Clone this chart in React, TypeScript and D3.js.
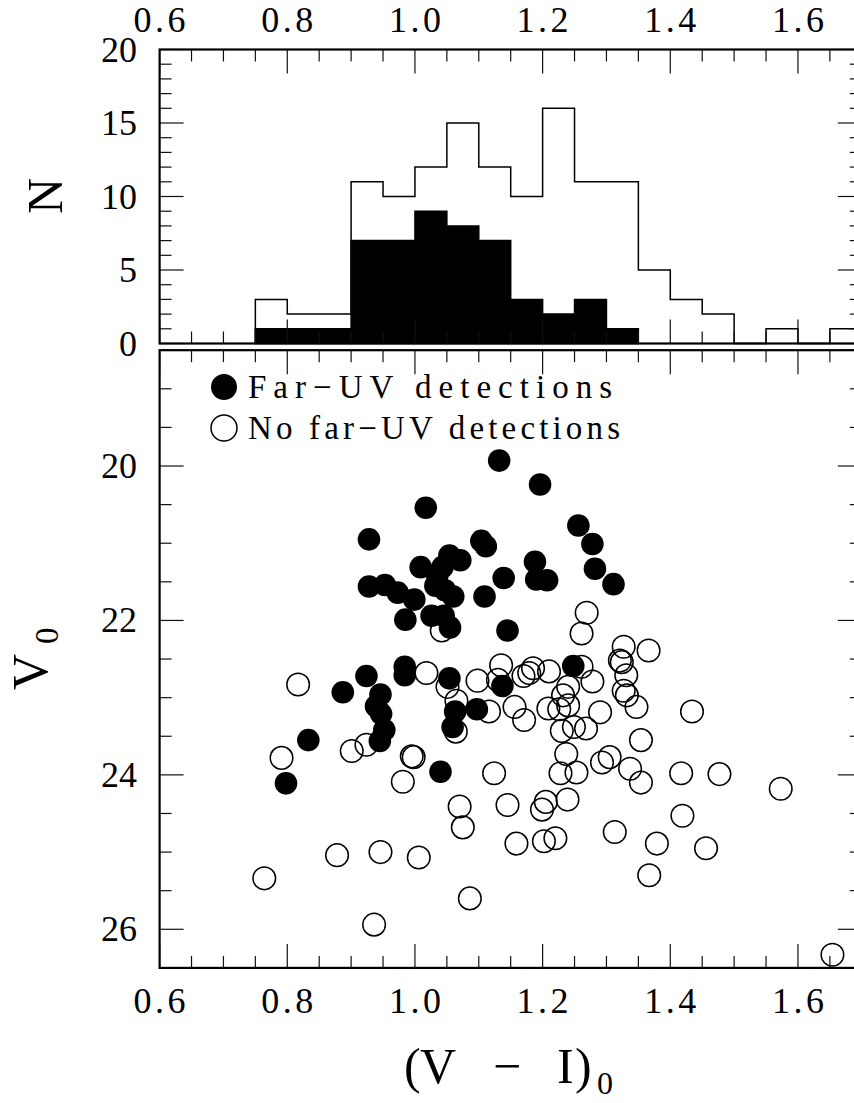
import React from "react";
import * as d3 from "d3";

const W = 854;
const H = 1103;

// histogram of (V-I)0, bins 0.05 wide
const binStarts = [0.75, 0.8, 0.85, 0.9, 0.95, 1.0, 1.05, 1.1, 1.15, 1.2, 1.25, 1.3, 1.35, 1.4, 1.45, 1.5, 1.55, 1.6, 1.65];
const allCounts = [3, 2, 2, 11, 10, 12, 15, 12, 10, 16, 11, 11, 5, 3, 2, 0, 1, 0, 1];
const fuvCounts = [1, 1, 1, 7, 7, 9, 8, 7, 3, 2, 3, 1];
const binWidth = 0.05;

// far-UV detected clusters
const fuvVI = [1.132, 1.196, 1.017, 0.928, 1.104, 1.256, 1.278, 1.282, 1.311, 1.054, 1.071, 1.009, 1.043, 0.928, 0.953, 0.973, 0.999, 1.032, 1.06, 1.109, 1.188, 1.19, 1.207, 1.139, 0.985, 1.026, 1.045, 1.055, 1.145, 0.924, 0.984, 0.984, 1.054, 1.248, 1.137, 0.887, 0.946, 0.939, 0.947, 0.952, 0.945, 1.063, 1.097, 1.059, 0.833, 0.798, 1.04, 1.035, 1.047, 1.111];
const fuvV = [19.93, 20.24, 20.54, 20.95, 20.97, 20.77, 21.01, 21.33, 21.53, 21.16, 21.22, 21.31, 21.31, 21.56, 21.54, 21.64, 21.73, 21.55, 21.69, 21.69, 21.24, 21.47, 21.48, 21.45, 21.99, 21.94, 21.94, 22.09, 22.13, 22.72, 22.6, 22.71, 22.75, 22.59, 22.85, 22.93, 22.96, 23.11, 23.21, 23.42, 23.56, 23.18, 23.15, 23.38, 23.55, 24.11, 23.96, 21.42, 21.61, 21.04];

// no far-UV detection
const noVI = [0.817, 1.018, 1.051, 1.098, 1.135, 1.065, 1.116, 1.064, 0.924, 0.901, 0.791, 0.995, 0.998, 0.981, 1.124, 1.07, 1.075, 1.145, 0.878, 0.946, 1.006, 0.764, 1.086, 0.936, 1.327, 1.366, 1.321, 1.324, 1.261, 1.185, 1.21, 1.17, 1.179, 1.278, 1.331, 1.24, 1.232, 1.327, 1.332, 1.347, 1.156, 1.171, 1.209, 1.226, 1.24, 1.29, 1.23, 1.249, 1.268, 1.434, 1.354, 1.237, 1.305, 1.293, 1.337, 1.354, 1.228, 1.253, 1.417, 1.477, 1.573, 1.205, 1.199, 1.239, 1.419, 1.313, 1.159, 1.202, 1.22, 1.379, 1.456, 1.367, 1.654, 1.269, 1.261, 1.042, 1.13];
const noV = [22.83, 22.68, 22.86, 22.78, 22.58, 23.04, 23.18, 23.44, 23.61, 23.69, 23.78, 23.76, 23.77, 24.09, 23.98, 24.41, 24.68, 24.39, 25.04, 25.0, 25.07, 25.34, 25.6, 25.94, 22.34, 22.39, 22.52, 22.54, 22.6, 22.62, 22.66, 22.72, 22.68, 22.79, 22.71, 22.86, 22.97, 22.91, 22.97, 23.12, 23.12, 23.29, 23.14, 23.15, 23.1, 23.19, 23.43, 23.38, 23.4, 23.18, 23.55, 23.73, 23.77, 23.84, 23.92, 24.1, 23.98, 23.97, 23.98, 23.99, 24.18, 24.35, 24.45, 24.32, 24.53, 24.74, 24.89, 24.86, 24.82, 24.89, 24.95, 25.3, 26.33, 21.9, 22.17, 22.13, 22.77];

const xTickLabels = ["0.6", "0.8", "1.0", "1.2", "1.4", "1.6"];
const nTickLabels = [0, 5, 10, 15, 20];
const magTickLabels = [20, 22, 24, 26];

const left = 159.6;
const right = 861.8;
const histTop = 49.5;
const histBottom = 343.5;
const scatTop = 350.2;
const scatBottom = 967.9;

const x = d3.scaleLinear().domain([0.6, 1.7]).range([left, right]);
const yN = d3.scaleLinear().domain([0, 20]).range([histBottom, histTop]);
const yV = d3.scaleLinear().domain([18.5, 26.5]).range([scatTop, scatBottom]);

const font = "'Liberation Serif', 'Times New Roman', serif";
const tickColor = "#111";

function stepPath(counts: number[]) {
  const pts: [number, number][] = [[binStarts[0], 0]];
  counts.forEach((c, i) => {
    pts.push([binStarts[i], c]);
    pts.push([binStarts[i] + binWidth, c]);
  });
  pts.push([binStarts[counts.length - 1] + binWidth, 0]);
  const line = d3.line<[number, number]>().x(d => x(d[0])).y(d => yN(d[1]));
  return line(pts) as string;
}

const isMult = (v: number, s: number) => Math.abs(v / s - Math.round(v / s)) < 1e-6;

function XTicks({ top, bottom }: { top: number; bottom: number }) {
  const vals = d3.range(0, 23).map(i => 0.6 + i * 0.05);
  return (
    <g stroke={tickColor} strokeWidth={1.2}>
      {vals.map((v, i) => {
        const len = isMult(v, 0.2) ? 24 : 12;
        const px = x(v);
        return (
          <g key={i}>
            <line x1={px} x2={px} y1={top} y2={top + len} />
            <line x1={px} x2={px} y1={bottom} y2={bottom - len} />
          </g>
        );
      })}
    </g>
  );
}

function YTicks({ vals, scale, major }: { vals: number[]; scale: d3.ScaleLinear<number, number>; major: (v: number) => boolean }) {
  return (
    <g stroke={tickColor} strokeWidth={1.2}>
      {vals.map((v, i) => {
        const len = major(v) ? 24 : 12;
        const py = scale(v);
        return (
          <g key={i}>
            <line x1={left} x2={left + len} y1={py} y2={py} />
            <line x1={right} x2={right - len} y1={py} y2={py} />
          </g>
        );
      })}
    </g>
  );
}

export default function App() {
  const nVals = d3.range(0, 21);
  const vVals = d3.range(0, 17).map(i => 18.5 + i * 0.5);

  return (
    <svg
      width={W}
      height={H}
      viewBox={`0 0 ${W} ${H}`}
      style={{ position: "absolute", left: 0, top: 0, background: "#fff" }}
      fontFamily={font}
    >
      <rect x={0} y={0} width={W} height={H} fill="#fff" />

      {/* histogram panel */}
      <path d={stepPath(allCounts)} fill="none" stroke="#000" strokeWidth={1.5} />
      <path d={stepPath(fuvCounts) + "Z"} fill="#000" stroke="#000" strokeWidth={1.5} />
      <XTicks top={histTop} bottom={histBottom} />
      <YTicks vals={nVals} scale={yN} major={v => v % 5 === 0} />
      <rect x={left} y={histTop} width={right - left} height={histBottom - histTop} fill="none" stroke="#000" strokeWidth={2.2} />

      {xTickLabels.map(t => (
        <text key={"top" + t} x={x(+t)} y={32} fontSize={36} textAnchor="middle" textLength={52} lengthAdjust="spacing">
          {t}
        </text>
      ))}
      {nTickLabels.map(t => (
        <text key={"n" + t} x={137} y={yN(t) + 12} fontSize={36} textAnchor="end">
          {t}
        </text>
      ))}
      <text transform={`translate(62,214) rotate(-90)`} fontSize={50}>N</text>

      {/* scatter panel */}
      <g fill="none" stroke="#000" strokeWidth={1.5}>
        {noVI.map((v, i) => (
          <circle key={"o" + i} cx={x(v)} cy={yV(noV[i])} r={11.3} />
        ))}
      </g>
      <g fill="#000">
        {fuvVI.map((v, i) => (
          <circle key={"f" + i} cx={x(v)} cy={yV(fuvV[i])} r={11.3} />
        ))}
      </g>
      <XTicks top={scatTop} bottom={scatBottom} />
      <YTicks vals={vVals} scale={yV} major={v => v % 2 === 0} />
      <rect x={left} y={scatTop} width={right - left} height={scatBottom - scatTop} fill="none" stroke="#000" strokeWidth={2.2} />

      {magTickLabels.map(t => (
        <text key={"m" + t} x={137} y={yV(t) + 12} fontSize={36} textAnchor="end">
          {t}
        </text>
      ))}
      {xTickLabels.map(t => (
        <text key={"bot" + t} x={x(+t)} y={1013} fontSize={36} textAnchor="middle" textLength={52} lengthAdjust="spacing">
          {t}
        </text>
      ))}

      {/* legend */}
      <circle cx={224} cy={387} r={13} fill="#000" />
      <text x={248} y={398} fontSize={33} textLength={364} lengthAdjust="spacing">Far−UV detections</text>
      <circle cx={224} cy={428} r={13} fill="none" stroke="#000" strokeWidth={1.5} />
      <text x={248} y={439} fontSize={33} textLength={372} lengthAdjust="spacing">No far−UV detections</text>

      {/* axis titles */}
      <text y={1083} fontSize={50}>
        <tspan x={404}>(</tspan>
        <tspan x={420}>V</tspan>
        <tspan x={493}>−</tspan>
        <tspan x={557}>I</tspan>
        <tspan x={575}>)</tspan>
      </text>
      <text x={597} y={1094} fontSize={32}>0</text>
      <text transform={`translate(47,690) rotate(-90)`} fontSize={50}>
        V<tspan dx={10} dy={11} fontSize={33}>0</tspan>
      </text>
    </svg>
  );
}
